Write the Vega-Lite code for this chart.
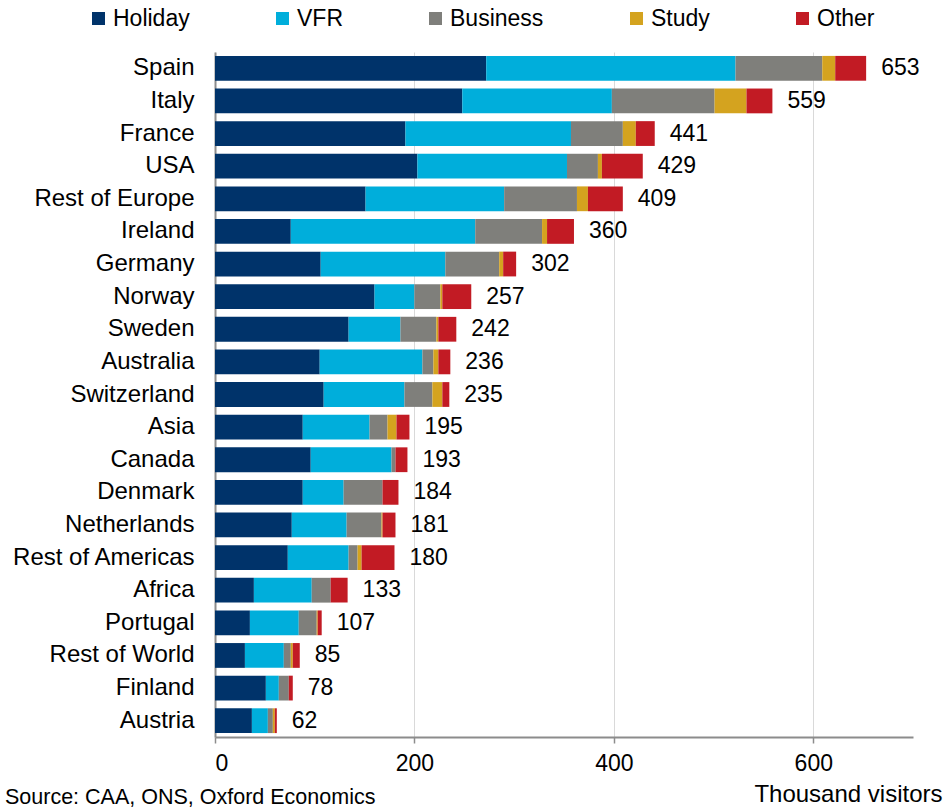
{
  "$schema": "https://vega.github.io/schema/vega-lite/v6.json",
  "autosize": {"type": "none"},
  "width": 698,
  "height": 685,
  "padding": {"left": 215, "top": 52, "right": 39, "bottom": 73},
  "background": "white",
  "config": {
    "font": "Liberation Sans",
    "view": {"stroke": null},
    "axis": {"labelColor": "#000000", "labelFontSize": 23, "titleColor": "#000000"}
  },
  "title": {
    "text": "Source: CAA, ONS, Oxford Economics",
    "orient": "bottom",
    "anchor": "start",
    "frame": "group",
    "fontSize": 21.5,
    "fontWeight": "normal",
    "color": "#000000",
    "offset": 0,
    "dx": -210,
    "dy": -19
  },
  "data": {
    "values": [
      {"country": "Spain", "Holiday": 272, "VFR": 250, "Business": 87, "Study": 13, "Other": 31},
      {"country": "Italy", "Holiday": 248, "VFR": 150, "Business": 103, "Study": 32, "Other": 26},
      {"country": "France", "Holiday": 191, "VFR": 166, "Business": 52, "Study": 13, "Other": 19},
      {"country": "USA", "Holiday": 203, "VFR": 150, "Business": 31, "Study": 4, "Other": 41},
      {"country": "Rest of Europe", "Holiday": 151, "VFR": 139, "Business": 73, "Study": 11, "Other": 35},
      {"country": "Ireland", "Holiday": 76, "VFR": 185, "Business": 67, "Study": 5, "Other": 27},
      {"country": "Germany", "Holiday": 106, "VFR": 125, "Business": 54, "Study": 4, "Other": 13},
      {"country": "Norway", "Holiday": 160, "VFR": 40, "Business": 26, "Study": 2, "Other": 29},
      {"country": "Sweden", "Holiday": 134, "VFR": 52, "Business": 36, "Study": 2, "Other": 18},
      {"country": "Australia", "Holiday": 105, "VFR": 103, "Business": 11, "Study": 5, "Other": 12},
      {"country": "Switzerland", "Holiday": 109, "VFR": 81, "Business": 28, "Study": 10, "Other": 7},
      {"country": "Asia", "Holiday": 88, "VFR": 67, "Business": 18, "Study": 9, "Other": 13},
      {"country": "Canada", "Holiday": 96, "VFR": 81, "Business": 4, "Study": 0, "Other": 12},
      {"country": "Denmark", "Holiday": 88, "VFR": 41, "Business": 39, "Study": 0, "Other": 16},
      {"country": "Netherlands", "Holiday": 77, "VFR": 55, "Business": 35, "Study": 1, "Other": 13},
      {"country": "Rest of Americas", "Holiday": 73, "VFR": 61, "Business": 9, "Study": 4, "Other": 33},
      {"country": "Africa", "Holiday": 39, "VFR": 58, "Business": 19, "Study": 0, "Other": 17},
      {"country": "Portugal", "Holiday": 35, "VFR": 49, "Business": 18, "Study": 1, "Other": 4},
      {"country": "Rest of World", "Holiday": 30, "VFR": 39, "Business": 7, "Study": 2, "Other": 7},
      {"country": "Finland", "Holiday": 51, "VFR": 13, "Business": 10, "Study": 0, "Other": 4},
      {"country": "Austria", "Holiday": 37, "VFR": 16, "Business": 5, "Study": 2, "Other": 2}
    ]
  },
  "transform": [
    {"fold": ["Holiday", "VFR", "Business", "Study", "Other"], "as": ["purpose", "value"]},
    {"window": [{"op": "row_number", "as": "segment"}], "groupby": ["country"]}
  ],
  "encoding": {
    "y": {
      "field": "country",
      "type": "nominal",
      "sort": ["Spain", "Italy", "France", "USA", "Rest of Europe", "Ireland", "Germany", "Norway", "Sweden", "Australia", "Switzerland", "Asia", "Canada", "Denmark", "Netherlands", "Rest of Americas", "Africa", "Portugal", "Rest of World", "Finland", "Austria"],
      "scale": {"paddingInner": 0.24, "paddingOuter": 0.12},
      "axis": {
        "title": null,
        "ticks": false,
        "labelFontSize": 24,
        "labelPadding": 21,
        "labelLimit": 300,
        "domainColor": "#8C8C8C",
        "domainWidth": 2
      }
    }
  },
  "layer": [
    {
      "mark": {"type": "bar"},
      "encoding": {
        "x": {
          "field": "value",
          "type": "quantitative",
          "stack": "zero",
          "scale": {"domain": [0, 700], "nice": false},
          "axis": {
            "values": [0, 200, 400, 600],
            "grid": true,
            "gridColor": "#D9D9D9",
            "gridWidth": 1,
            "domainColor": "#8C8C8C",
            "domainWidth": 2,
            "tickColor": "#8C8C8C",
            "tickSize": 6,
            "tickWidth": 1.5,
            "labelPadding": 9,
            "title": "Thousand visitors",
            "titleFontSize": 24,
            "titleFontWeight": "normal",
            "titleAlign": "right",
            "titleAnchor": "end",
            "titleBaseline": "top",
            "titleX": 727,
            "titleY": 45
          }
        },
        "order": {"field": "segment", "type": "quantitative"},
        "color": {
          "field": "purpose",
          "type": "nominal",
          "sort": ["Holiday", "VFR", "Business", "Study", "Other"],
          "scale": {
            "domain": ["Holiday", "VFR", "Business", "Study", "Other"],
            "range": ["#00336A", "#00AEDB", "#7F7F7B", "#D4A31F", "#C21B24"]
          },
          "legend": {
            "title": null,
            "orient": "none",
            "legendX": -128,
            "legendY": -45,
            "direction": "horizontal",
            "columns": 5,
            "gridAlign": "none",
            "columnPadding": 81,
            "padding": 0,
            "symbolType": "square",
            "symbolSize": 169,
            "symbolStrokeWidth": 0,
            "symbolOpacity": 1,
            "labelFontSize": 23,
            "labelOffset": 3,
            "labelColor": "#000000"
          }
        }
      }
    },
    {
      "mark": {"type": "text", "align": "left", "baseline": "middle", "dx": 15, "fontSize": 23, "color": "#000000"},
      "encoding": {
        "x": {"aggregate": "sum", "field": "value", "type": "quantitative"},
        "text": {"aggregate": "sum", "field": "value", "type": "quantitative"}
      }
    }
  ]
}
